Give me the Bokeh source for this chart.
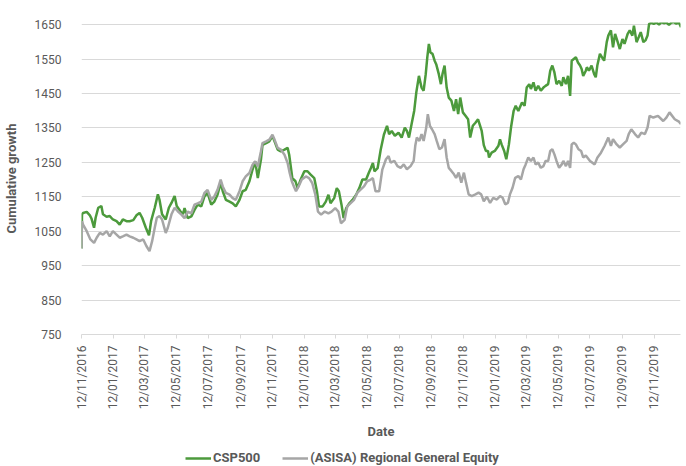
import math
import pandas as pd
from bokeh.plotting import figure
from bokeh.layouts import column
from bokeh.models import Range1d, FixedTicker, DatetimeTickFormatter, Legend, LegendItem, ColumnDataSource
from bokeh.embed import file_html
from bokeh.resources import INLINE

# ---------------- data ----------------
START_DATE = "2016-11-12"      # day 0 of the day offsets below
END_DATE = "2020-01-01"

series_names = ["CSP500", "(ASISA) Regional General Equity"]

# CSP500 (days since START_DATE, cumulative growth)
csp_day = [0, 1, 3, 10, 16, 19, 24, 27, 32, 38, 41, 48, 54, 60, 67, 73, 79, 86, 92, 99,
           105, 111, 116, 123, 129, 133, 140, 146, 149, 154, 161, 167, 172, 178, 182, 189, 194, 197, 203, 210,
           216, 222, 229, 235, 241, 248, 254, 260, 266, 270, 276, 283, 289, 295, 302, 308, 314, 321, 327, 332,
           337, 343, 346, 353, 359, 365, 369, 375, 381, 388, 394, 397, 400, 403, 409, 413, 419, 426, 432, 438,
           445, 450, 454, 461, 467, 472, 476, 483, 488, 492, 497, 501, 506, 512, 518, 525, 531, 537, 544, 549,
           553, 557, 560, 566, 572, 578, 584, 588, 593, 599, 606, 612, 618, 622, 626, 631, 636, 640, 645, 650,
           654, 658, 661, 664, 667, 671, 675, 678, 683, 687, 690, 694, 698, 702, 707, 712, 716, 720, 724, 729,
           734, 739, 743, 748, 753, 758, 762, 765, 769, 773, 777, 779, 784, 790, 797, 800, 803, 808, 812, 817,
           821, 826, 830, 835, 842, 847, 851, 856, 859, 864, 868, 873, 878, 883, 887, 892, 896, 900, 904, 908,
           913, 918, 921, 926, 930, 934, 937, 941, 945, 949, 953, 956, 959, 964, 966, 970, 975, 980, 983, 986,
           991, 995, 999, 1004, 1007, 1012, 1016, 1020, 1025, 1029, 1034, 1038, 1044, 1048, 1053, 1056, 1061, 1065, 1069, 1074,
           1078, 1082, 1085, 1089, 1094, 1099, 1104, 1108, 1113, 1118, 1123, 1127, 1132, 1137, 1142, 1146]
csp_value = [1000, 1099, 1103, 1106, 1096, 1087, 1060, 1089, 1118, 1123, 1099, 1092, 1094, 1084, 1079, 1069, 1084, 1079, 1079, 1082,
             1096, 1103, 1089, 1060, 1038, 1079, 1118, 1157, 1142, 1099, 1084, 1118, 1132, 1152, 1123, 1108, 1099, 1117, 1088, 1093,
             1112, 1127, 1122, 1151, 1161, 1127, 1136, 1156, 1190, 1166, 1141, 1136, 1131, 1122, 1141, 1166, 1170, 1195, 1229, 1253,
             1204, 1258, 1301, 1306, 1311, 1326, 1311, 1287, 1282, 1287, 1292, 1272, 1238, 1204, 1195, 1175, 1200, 1224, 1224, 1214,
             1204, 1166, 1122, 1122, 1136, 1156, 1131, 1146, 1175, 1166, 1127, 1088, 1117, 1131, 1141, 1156, 1175, 1200, 1200, 1219,
             1233, 1248, 1224, 1233, 1287, 1330, 1356, 1332, 1341, 1327, 1336, 1322, 1351, 1341, 1322, 1361, 1400, 1453, 1501, 1467,
             1458, 1506, 1555, 1594, 1569, 1565, 1545, 1535, 1506, 1477, 1506, 1531, 1467, 1438, 1429, 1399, 1433, 1390, 1438, 1395,
             1385, 1375, 1322, 1356, 1365, 1375, 1356, 1341, 1300, 1283, 1283, 1264, 1278, 1283, 1298, 1317, 1302, 1283, 1259, 1302,
             1351, 1399, 1414, 1399, 1424, 1414, 1467, 1477, 1463, 1482, 1458, 1472, 1458, 1467, 1472, 1477, 1516, 1531, 1511, 1477,
             1487, 1472, 1497, 1477, 1501, 1443, 1545, 1550, 1555, 1540, 1531, 1521, 1501, 1516, 1526, 1516, 1531, 1506, 1497, 1531,
             1565, 1555, 1545, 1599, 1618, 1633, 1584, 1623, 1599, 1579, 1608, 1594, 1623, 1633, 1618, 1647, 1599, 1613, 1628, 1599,
             1604, 1618, 1652, 1655, 1652, 1656, 1650, 1657, 1654, 1656, 1649, 1655, 1657, 1653, 1656, 1642]

# (ASISA) Regional General Equity (days since START_DATE, cumulative growth)
asisa_day = [0, 1, 3, 10, 17, 24, 29, 35, 41, 48, 54, 60, 67, 73, 79, 86, 92, 99, 105, 111,
             118, 124, 130, 135, 140, 144, 149, 154, 161, 165, 172, 178, 184, 191, 197, 203, 210, 216, 222, 229,
             235, 241, 248, 254, 260, 266, 270, 276, 283, 289, 295, 302, 308, 314, 321, 327, 332, 337, 343, 346,
             353, 359, 365, 369, 375, 381, 388, 394, 398, 402, 406, 410, 415, 421, 429, 435, 441, 447, 452, 458,
             465, 472, 478, 485, 491, 496, 503, 508, 514, 521, 527, 533, 540, 546, 553, 557, 562, 569, 575, 582,
             587, 591, 598, 604, 610, 616, 622, 629, 635, 638, 641, 646, 650, 654, 659, 662, 666, 670, 675, 679,
             684, 689, 694, 698, 702, 707, 712, 716, 721, 726, 731, 735, 740, 746, 753, 759, 764, 769, 775, 781,
             787, 794, 800, 805, 810, 815, 819, 824, 829, 835, 840, 845, 849, 854, 859, 864, 868, 873, 878, 883,
             887, 892, 896, 900, 904, 908, 913, 918, 921, 926, 930, 934, 937, 941, 945, 950, 955, 959, 964, 972,
             981, 986, 993, 1000, 1007, 1012, 1016, 1023, 1029, 1035, 1042, 1046, 1051, 1058, 1064, 1070, 1077, 1082, 1086, 1093,
             1102, 1112, 1118, 1124, 1134, 1142, 1146]
asisa_value = [1000, 1079, 1069, 1050, 1026, 1016, 1031, 1045, 1040, 1050, 1035, 1050, 1040, 1031, 1035, 1040, 1035, 1031, 1026, 1021,
               1026, 1007, 992, 1021, 1060, 1089, 1094, 1084, 1045, 1060, 1099, 1118, 1108, 1098, 1088, 1107, 1102, 1127, 1131, 1136,
               1161, 1170, 1141, 1151, 1170, 1200, 1180, 1161, 1156, 1146, 1141, 1166, 1195, 1209, 1219, 1243, 1253, 1238, 1282, 1306,
               1311, 1316, 1330, 1316, 1292, 1287, 1272, 1248, 1219, 1195, 1180, 1166, 1180, 1200, 1209, 1204, 1190, 1156, 1107, 1098,
               1107, 1102, 1107, 1117, 1107, 1073, 1083, 1122, 1131, 1141, 1161, 1170, 1180, 1195, 1200, 1204, 1166, 1166, 1229, 1259,
               1268, 1249, 1254, 1239, 1234, 1244, 1230, 1239, 1254, 1298, 1322, 1312, 1332, 1312, 1351, 1390, 1356, 1346, 1332, 1312,
               1288, 1293, 1317, 1264, 1234, 1225, 1215, 1205, 1220, 1191, 1220, 1191, 1157, 1152, 1157, 1162, 1157, 1137, 1150, 1132,
               1147, 1142, 1152, 1147, 1128, 1132, 1157, 1176, 1205, 1210, 1200, 1230, 1244, 1264, 1254, 1264, 1244, 1249, 1234, 1239,
               1254, 1254, 1283, 1288, 1273, 1254, 1234, 1244, 1254, 1239, 1254, 1234, 1302, 1307, 1302, 1288, 1283, 1264, 1270, 1254,
               1244, 1263, 1278, 1298, 1322, 1298, 1317, 1302, 1293, 1302, 1312, 1332, 1346, 1332, 1322, 1336, 1332, 1351, 1385, 1380,
               1385, 1370, 1380, 1395, 1375, 1368, 1361]

x_tick_dates = ["2016-11-12", "2017-01-12", "2017-03-12", "2017-05-12", "2017-07-12", "2017-09-12",
                "2017-11-12", "2018-01-12", "2018-03-12", "2018-05-12", "2018-07-12", "2018-09-12",
                "2018-11-12", "2019-01-12", "2019-03-12", "2019-05-12", "2019-07-12", "2019-09-12",
                "2019-11-12"]
y_ticks = [750, 850, 950, 1050, 1150, 1250, 1350, 1450, 1550, 1650]
y_limits = [750, 1656]

# ---------------- build ----------------
start = pd.Timestamp(START_DATE)
epoch = pd.Timestamp("1970-01-01")


def to_dates(days):
    return [start + pd.Timedelta(days=d) for d in days]


def to_ms(ts):
    return (pd.Timestamp(ts) - epoch) / pd.Timedelta(milliseconds=1)


csp_src = ColumnDataSource(dict(date=to_dates(csp_day), value=csp_value))
asisa_src = ColumnDataSource(dict(date=to_dates(asisa_day), value=asisa_value))

TEXT = "#595959"
FONT = "Roboto"
GREEN = "#4c9a3c"
GREY = "#a6a6a6"

p = figure(width=686, height=442, x_axis_type="datetime", output_backend="svg",
           toolbar_location=None,
           x_range=Range1d(start, pd.Timestamp(END_DATE)),
           y_range=Range1d(*y_limits),
           min_border_left=78, min_border_right=6, min_border_top=22, min_border_bottom=108)
p.outline_line_color = None
p.background_fill_color = "white"
p.border_fill_color = "white"

p.line("date", "value", source=csp_src, line_color=GREEN, line_width=2.5)
p.line("date", "value", source=asisa_src, line_color=GREY, line_width=2.5)

# x axis
xa = p.xaxis[0]
xa.ticker = FixedTicker(ticks=[to_ms(d) for d in x_tick_dates])
fmt = "%d/%m/%Y"
xa.formatter = DatetimeTickFormatter(microseconds=fmt, milliseconds=fmt, seconds=fmt, minsec=fmt,
                                     minutes=fmt, hourmin=fmt, hours=fmt, days=fmt, months=fmt,
                                     years=fmt, strip_leading_zeros=False)
xa.major_label_orientation = math.pi / 2
xa.axis_line_color = "#d9d9d9"
xa.major_tick_line_color = "#d9d9d9"
xa.major_tick_out = 4
xa.major_tick_in = 0
xa.minor_tick_line_color = None
xa.major_label_standoff = 7
xa.major_label_text_font = FONT
xa.major_label_text_font_size = "12px"
xa.major_label_text_color = TEXT
xa.axis_label = "Date"
xa.axis_label_text_font = FONT
xa.axis_label_text_font_style = "bold"
xa.axis_label_text_font_size = "13px"
xa.axis_label_text_color = TEXT
xa.axis_label_standoff = 12

# y axis
ya = p.yaxis[0]
ya.ticker = FixedTicker(ticks=y_ticks)
ya.axis_line_color = None
ya.major_tick_line_color = None
ya.minor_tick_line_color = None
ya.major_label_standoff = 14
ya.major_label_text_font = FONT
ya.major_label_text_font_size = "12px"
ya.major_label_text_color = TEXT
ya.axis_label = "Cumulative growth"
ya.axis_label_text_font = FONT
ya.axis_label_text_font_style = "bold"
ya.axis_label_text_font_size = "13px"
ya.axis_label_text_color = TEXT
ya.axis_label_standoff = 13

p.xgrid.visible = False
p.ygrid.grid_line_color = "#d9d9d9"
p.ygrid.grid_line_width = 1

# legend strip (separate figure under the chart; its ranges keep the series out of view)
lg = figure(width=686, height=24, output_backend="svg", toolbar_location=None,
            x_axis_location=None, y_axis_location=None,
            x_range=Range1d(0, 1), y_range=Range1d(0, 1),
            min_border=0, min_border_left=0, min_border_right=0, min_border_top=0, min_border_bottom=0)
lg.grid.visible = False
lg.outline_line_color = None
lg.background_fill_color = "white"
lg.border_fill_color = "white"
k1 = lg.line("date", "value", source=csp_src, line_color=GREEN, line_width=2.5)
k2 = lg.line("date", "value", source=asisa_src, line_color=GREY, line_width=2.5)
legend = Legend(items=[LegendItem(label=series_names[0], renderers=[k1]),
                       LegendItem(label=series_names[1], renderers=[k2])],
                orientation="horizontal", location=(104, 1),
                border_line_color=None, background_fill_alpha=0,
                padding=0, margin=0, spacing=22, glyph_width=26, glyph_height=14,
                label_height=14, label_standoff=2,
                label_text_font=FONT, label_text_font_style="bold",
                label_text_font_size="13px", label_text_color=TEXT)
lg.add_layout(legend, "center")

layout = column(p, lg, spacing=0)
open("out.html", "w").write(file_html(layout, INLINE))
